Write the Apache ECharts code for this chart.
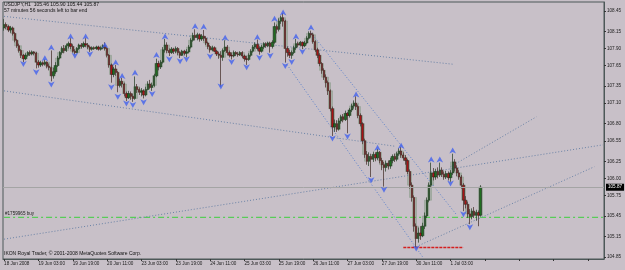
<!DOCTYPE html>
<html><head><meta charset="utf-8">
<script src="https://cdn.jsdelivr.net/npm/echarts@6/dist/echarts.min.js"></script>
<style>html,body{margin:0;padding:0;background:#c8c0c8}#c{width:625px;height:270px}</style>
</head><body><div id="c"></div>
<script>
// ---- data ----
const slotCount = 280; // bar slots incl. empty right shift
const tickLabels = ['18 Jun 2008','19 Jun 03:00','19 Jun 19:00','20 Jun 11:00','23 Jun 03:00','23 Jun 19:00','24 Jun 11:00','25 Jun 03:00','25 Jun 19:00','26 Jun 11:00','27 Jun 03:00','27 Jun 19:00','30 Jun 11:00','1 Jul 03:00'];
const priceTicks = [108.45,108.15,107.90,107.65,107.35,107.10,106.80,106.55,106.25,106.00,105.75,105.45,105.15,104.85];
// [open, close, low, high]
const candles = [
[108.20,108.25,108.16,108.33],[108.25,108.22,108.18,108.28],[108.22,108.17,108.14,108.24],[108.17,108.20,108.13,108.23],[108.20,108.12,108.09,108.22],
[108.12,108.02,107.99,108.14],[108.02,107.94,107.91,108.04],[107.94,107.87,107.84,107.97],[107.87,107.80,107.76,107.89],[107.80,107.75,107.70,107.82],
[107.75,107.80,107.73,107.83],[107.80,107.84,107.78,107.86],[107.84,107.82,107.79,107.87],[107.82,107.85,107.80,107.87],[107.85,107.83,107.80,107.86],
[107.83,107.70,107.61,107.85],[107.70,107.66,107.62,107.73],[107.66,107.69,107.63,107.72],[107.69,107.67,107.64,107.71],[107.67,107.70,107.65,107.74],
[107.70,107.64,107.61,107.71],[107.64,107.62,107.58,107.68],[107.62,107.50,107.42,107.87],[107.50,107.56,107.46,107.62],[107.56,107.65,107.53,107.70],
[107.65,107.76,107.63,107.79],[107.76,107.84,107.74,107.86],[107.84,107.90,107.81,107.93],[107.90,107.87,107.83,107.95],[107.87,107.94,107.85,107.97],
[107.94,107.97,107.90,108.00],[107.97,107.93,107.89,108.05],[107.93,107.86,107.84,107.96],[107.86,107.84,107.81,107.89],[107.84,107.90,107.83,107.92],
[107.90,107.95,107.88,107.97],[107.95,107.93,107.90,107.98],[107.93,107.97,107.91,108.00],[107.97,107.95,107.92,108.05],[107.95,107.92,107.89,107.98],
[107.92,107.89,107.85,107.94],[107.89,107.91,107.87,107.93],[107.91,107.90,107.88,107.93],[107.90,107.92,107.88,107.94],[107.92,107.89,107.87,107.94],
[107.89,107.91,107.87,107.93],[107.91,107.94,107.89,107.96],[107.94,107.90,107.87,107.99],[107.90,107.80,107.77,107.92],[107.80,107.66,107.62,107.82],
[107.66,107.52,107.40,107.68],[107.52,107.60,107.48,107.63],[107.60,107.55,107.50,107.66],[107.55,107.36,107.26,107.57],[107.36,107.42,107.33,107.46],
[107.42,107.38,107.33,107.47],[107.38,107.24,107.20,107.40],[107.24,107.18,107.13,107.27],[107.18,107.24,107.16,107.28],[107.24,107.20,107.15,107.27],
[107.20,107.17,107.12,107.24],[107.17,107.34,107.15,107.49],[107.34,107.30,107.25,107.38],[107.30,107.26,107.22,107.33],[107.26,107.28,107.20,107.32],
[107.28,107.22,107.17,107.30],[107.22,107.30,107.20,107.34],[107.30,107.38,107.29,107.42],[107.38,107.33,107.31,107.44],[107.33,107.36,107.28,107.40],
[107.36,107.50,107.34,107.53],[107.50,107.68,107.48,107.75],[107.68,107.63,107.58,107.72],[107.63,107.70,107.60,107.73],[107.70,107.88,107.68,107.92],
[107.88,107.95,107.84,108.04],[107.95,107.87,107.83,107.99],[107.87,107.84,107.79,107.90],[107.84,107.89,107.82,107.92],[107.89,107.86,107.82,107.91],
[107.86,107.90,107.83,107.93],[107.90,107.84,107.80,107.92],[107.84,107.80,107.76,107.86],[107.80,107.86,107.79,107.88],[107.86,107.83,107.80,107.88],
[107.83,107.85,107.77,107.89],[107.85,107.92,107.83,107.95],[107.92,108.02,107.90,108.05],[108.02,108.09,108.00,108.13],[108.09,108.06,108.02,108.18],
[108.06,108.10,108.02,108.13],[108.10,108.04,108.00,108.12],[108.04,108.08,108.01,108.11],[108.08,108.05,108.01,108.17],[108.05,107.98,107.95,108.08],
[107.98,107.93,107.89,108.00],[107.93,107.88,107.84,107.95],[107.88,107.91,107.86,107.94],[107.91,107.86,107.85,107.93],[107.86,107.82,107.79,107.88],
[107.82,107.80,107.75,107.85],[107.80,107.77,107.34,107.86],[107.77,107.87,107.72,107.90],[107.87,107.92,107.85,108.02],[107.92,107.84,107.80,107.95],
[107.84,107.80,107.77,107.87],[107.80,107.79,107.74,107.84],[107.79,107.84,107.77,107.87],[107.84,107.82,107.79,107.86],[107.82,107.81,107.78,107.85],
[107.81,107.84,107.79,107.86],[107.84,107.79,107.76,107.86],[107.79,107.75,107.71,107.81],[107.75,107.74,107.66,107.79],[107.74,107.80,107.72,107.83],
[107.80,107.86,107.78,107.89],[107.86,107.92,107.84,107.95],[107.92,107.96,107.89,107.99],[107.96,107.90,107.87,108.03],[107.90,107.86,107.81,107.93],
[107.86,107.92,107.84,107.95],[107.92,107.97,107.89,107.99],[107.97,107.94,107.91,107.99],[107.94,107.98,107.92,108.00],[107.98,107.93,107.84,108.00],
[107.93,107.99,107.90,108.02],[107.99,108.22,107.97,108.28],[108.22,108.18,108.12,108.25],[108.18,108.30,108.15,108.34],[108.30,108.35,108.26,108.38],
[108.35,108.30,108.22,108.42],[108.30,107.90,107.70,108.32],[107.90,107.84,107.78,107.93],[107.84,107.80,107.76,107.88],[107.80,107.84,107.75,107.87],
[107.84,107.91,107.82,107.94],[107.91,107.97,107.88,108.04],[107.97,107.95,107.92,108.00],[107.95,107.99,107.93,108.01],[107.99,107.94,107.89,108.00],
[107.94,107.98,107.92,108.01],[107.98,108.05,107.96,108.08],[108.05,108.12,108.03,108.15],[108.12,108.10,108.06,108.16],[108.10,108.00,107.97,108.13],
[108.00,107.88,107.85,108.02],[107.88,107.80,107.76,107.91],[107.80,107.68,107.64,107.83],[107.68,107.58,107.53,107.70],[107.58,107.48,107.44,107.61],
[107.48,107.40,107.33,107.52],[107.40,107.28,107.22,107.43],[107.28,107.02,106.98,107.30],[107.02,106.75,106.62,107.05],[106.75,106.80,106.68,106.86],
[106.80,106.72,106.68,106.85],[106.72,106.84,106.70,106.88],[106.84,106.90,106.80,106.93],[106.90,106.86,106.82,106.94],[106.86,106.95,106.84,106.99],
[106.95,106.92,106.66,106.97],[106.92,107.00,106.89,107.03],[107.00,107.06,106.97,107.09],[107.06,107.10,107.02,107.14],[107.10,107.05,107.00,107.20],
[107.05,106.92,106.88,107.08],[106.92,106.80,106.76,106.95],[106.80,106.55,106.50,106.82],[106.55,106.35,106.30,106.58],[106.35,106.25,106.20,106.40],
[106.25,106.32,106.18,106.38],[106.32,106.28,106.02,106.36],[106.28,106.35,106.24,106.39],[106.35,106.30,106.25,106.38],[106.30,106.38,106.27,106.43],
[106.38,106.26,106.22,106.40],[106.26,106.20,106.12,106.30],[106.20,106.16,105.88,106.24],[106.16,106.22,106.10,106.26],[106.22,106.18,106.13,106.26],
[106.18,106.26,106.14,106.30],[106.26,106.32,106.22,106.35],[106.32,106.28,106.24,106.36],[106.28,106.36,106.25,106.39],[106.36,106.40,106.33,106.44],
[106.40,106.34,106.30,106.46],[106.34,106.30,106.26,106.38],[106.30,106.26,106.20,106.34],[106.26,106.10,106.06,106.28],[106.10,105.90,105.85,106.13],
[105.90,105.72,105.66,105.94],[105.72,105.30,105.22,105.75],[105.30,105.12,104.99,105.34],[105.12,105.20,105.06,105.28],[105.20,105.16,105.10,105.30],
[105.16,105.30,105.14,105.35],[105.30,105.45,105.26,105.50],[105.45,105.68,105.42,105.72],[105.68,105.90,105.65,105.94],[105.90,106.08,105.86,106.23],
[106.08,106.02,105.97,106.15],[106.02,106.10,105.98,106.14],[106.10,106.05,106.00,106.16],[106.05,106.12,106.02,106.23],[106.12,106.06,106.02,106.16],
[106.06,106.02,105.98,106.10],[106.02,106.07,105.99,106.11],[106.07,106.01,105.97,106.10],[106.01,106.08,105.95,106.12],[106.08,106.24,106.05,106.36],
[106.24,106.15,106.10,106.28],[106.15,106.08,106.03,106.19],[106.08,106.02,105.98,106.12],[106.02,105.90,105.85,106.05],[105.90,105.68,105.52,105.93],
[105.68,105.62,105.56,105.74],[105.62,105.48,105.42,105.66],[105.48,105.44,105.33,105.55],[105.44,105.52,105.40,105.56],[105.52,105.46,105.42,105.58],
[105.46,105.50,105.38,105.54],[105.50,105.46,105.30,105.53],[105.46,105.87,105.44,105.90]
];
// fractal arrows [bar, price]
const fractalsUp = [[19,107.80],[22,107.96],[31,108.12],[38,108.12],[47,107.99],[52,107.74],[55,107.54],[61,107.59],[71,107.85],[75,108.12],[89,108.27],[93,108.26],[103,108.10],[118,108.11],[126,108.38],[130,108.47],[136,108.12],[143,108.25],[164,107.27],[174,106.49],[185,106.52],[199,106.32],[203,106.32],[209,106.45]];
const fractalsDown = [[9,107.63],[15,107.51],[22,107.33],[33,107.75],[40,107.77],[50,107.29],[53,107.15],[57,107.05],[60,107.03],[65,107.07],[69,107.19],[77,107.70],[82,107.67],[85,107.70],[96,107.74],[101,107.30],[106,107.66],[113,107.58],[119,107.72],[124,107.75],[131,107.60],[134,107.66],[139,107.81],[153,106.54],[160,106.57],[171,105.93],[177,105.79],[192,104.93],[208,105.88],[214,105.43],[217,105.24]];
// trend lines [bar, price]
const trendA = [[0,108.37],[209,107.67]];
const trendB = [[0,107.28],[182,106.47]];
const trendC = [[131,107.70],[195,104.85]];
const trendD = [[143,108.13],[211,105.46]];
const trendE = [[0,105.11],[279,106.49]];
const trendF = [[192,105.00],[275,106.17]];
const trendG = [[208,106.17],[248,106.90]];
const lowSegment = [[186,104.99],[214,104.99]];
const bidPrice = 105.87;
const orderLine = [[0,105.43],[279,105.43]];
const headerText = 'USDJPY,H1  105.46 105.90 105.44 105.87';
const timerText = '57 minutes 56 seconds left to bar end';
const orderText = '#1759965 buy';
const copyrightText = 'IKON Royal Trader, \u00a9 2001-2008 MetaQuotes Software Corp.';

// ---- chart ----
const FONT = 'Liberation Sans';
const categories = [];
for (let i = 0; i < slotCount; i++) categories.push(i);
const chart = echarts.init(document.getElementById('c'), null, {renderer: 'canvas'});
function tline(data, color) {
  return {type: 'line', data: data, symbol: 'none', silent: true, z: 3,
    lineStyle: {color: color, width: 1, type: [1, 2]}, animation: false};
}
const option = {
  backgroundColor: '#c8c0c8',
  animation: false,
  grid: {left: 3, right: 21, top: 2, bottom: 11, containLabel: false, outerBoundsMode: 'none',
    show: true, borderColor: '#4d5858', borderWidth: 1, backgroundColor: 'transparent'},
  xAxis: {type: 'category', data: categories, boundaryGap: true,
    axisLine: {show: true, lineStyle: {color: '#4d5858', width: 1}},
    axisTick: {show: true, interval: 15, alignWithLabel: true, length: 2, lineStyle: {color: '#333'}},
    axisLabel: {interval: 15, align: 'left', margin: 2, fontSize: 4.6, fontFamily: FONT, color: '#1a1a1a',
      formatter: (v, i) => (i % 16 === 0 && tickLabels[i / 16]) ? tickLabels[i / 16] : ''},
    splitLine: {show: false}},
  yAxis: {type: 'value', position: 'right', min: 104.82, max: 108.58, scale: true,
    axisLine: {show: true, lineStyle: {color: '#4d5858', width: 1}},
    axisTick: {show: true, length: 2, customValues: priceTicks, lineStyle: {color: '#333'}},
    axisLabel: {customValues: priceTicks, margin: 3, fontSize: 4.6, fontFamily: FONT, color: '#1a1a1a',
      formatter: v => v.toFixed(2)},
    splitLine: {show: false}},
  graphic: [
    {type: 'text', left: 4, top: 2, style: {text: headerText, fontSize: 5, fontFamily: FONT, fill: '#111'}},
    {type: 'text', left: 4, top: 8.5, style: {text: timerText, fontSize: 5, fontFamily: FONT, fill: '#111'}},
    {type: 'text', left: 5, top: 211.5, style: {text: orderText, fontSize: 4.6, fontFamily: FONT, fill: '#222'}},
    {type: 'text', left: 4, top: 251.5, style: {text: copyrightText, fontSize: 5, fontFamily: FONT, fill: '#111'}}
  ],
  series: [
    {type: 'candlestick', data: candles, barWidth: 4.5, silent: true, z: 1,
      itemStyle: {color: 'rgba(140,158,140,0.6)', color0: 'rgba(140,158,140,0.6)', borderColor: 'rgba(140,158,140,0.5)', borderColor0: 'rgba(140,158,140,0.5)', borderWidth: 1}},
    {type: 'candlestick', data: candles, barWidth: 1.8, silent: true, z: 4,
      itemStyle: {color: '#1f6e1f', color0: '#a81414', borderColor: '#182e18', borderColor0: '#3a1a1a', borderWidth: 0.6},
      markLine: {silent: true, symbol: ['none', 'none'], animation: false,
        data: [{yAxis: bidPrice}],
        lineStyle: {color: '#a4a4a4', type: 'solid', width: 1},
        label: {show: true, position: 'end', distance: 2, formatter: bidPrice.toFixed(2), backgroundColor: '#000', color: '#fff', fontSize: 4.6, fontFamily: FONT, padding: [1, 2]}}},
    {type: 'line', data: orderLine, symbol: 'none', silent: true, z: 2,
      lineStyle: {color: '#3ccf3c', width: 1, type: [6, 3, 2, 3]}},
    tline(trendA, '#6a82a6'),
    tline(trendB, '#6a82a6'),
    tline(trendC, '#5a80cc'),
    tline(trendD, '#5a80cc'),
    tline(trendE, '#6a82a6'),
    tline(trendF, '#6a82a6'),
    tline(trendG, '#6a82a6'),
    {type: 'line', data: lowSegment, symbol: 'none', silent: true, z: 5,
      lineStyle: {color: '#d41e1e', width: 1.5, type: [3, 1]}},
    {type: 'scatter', data: fractalsUp, symbol: 'arrow', symbolSize: [5, 6], silent: true, z: 6,
      itemStyle: {color: '#4262ee'}},
    {type: 'scatter', data: fractalsDown, symbol: 'arrow', symbolSize: [5, 6], symbolRotate: 180, silent: true, z: 6,
      itemStyle: {color: '#4262ee'}}
  ]
};
chart.setOption(option);
</script>
</body></html>
